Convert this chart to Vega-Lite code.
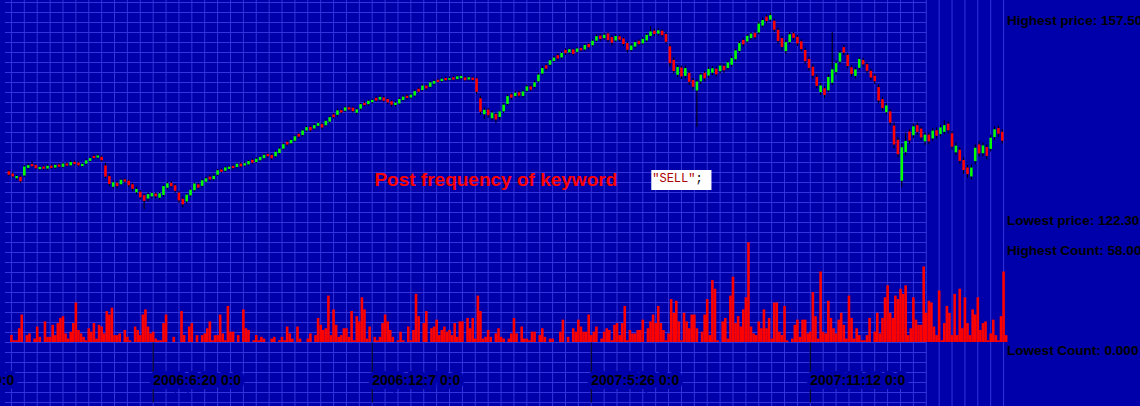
{
"$schema":"https://vega.github.io/schema/vega-lite/v6.json",
"width":1140,"height":406,"autosize":{"type":"none"},"padding":0,"background":"#0000AA",
"config":{"view":{"stroke":null}},
"resolve":{"scale":{"y":"independent"}},
"datasets":{
"gridDays":[{"d":"2006/03/02"},{"d":"2006/03/12"},{"d":"2006/03/22"},{"d":"2006/04/01"},{"d":"2006/04/11"},{"d":"2006/04/21"},{"d":"2006/05/01"},{"d":"2006/05/11"},{"d":"2006/05/21"},{"d":"2006/05/31"},{"d":"2006/06/10"},{"d":"2006/06/20"},{"d":"2006/06/30"},{"d":"2006/07/10"},{"d":"2006/07/20"},{"d":"2006/07/30"},{"d":"2006/08/09"},{"d":"2006/08/19"},{"d":"2006/08/29"},{"d":"2006/09/08"},{"d":"2006/09/18"},{"d":"2006/09/28"},{"d":"2006/10/08"},{"d":"2006/10/18"},{"d":"2006/10/28"},{"d":"2006/11/07"},{"d":"2006/11/17"},{"d":"2006/11/27"},{"d":"2006/12/07"},{"d":"2006/12/17"},{"d":"2006/12/27"},{"d":"2007/01/06"},{"d":"2007/01/16"},{"d":"2007/01/26"},{"d":"2007/02/05"},{"d":"2007/02/15"},{"d":"2007/02/25"},{"d":"2007/03/07"},{"d":"2007/03/17"},{"d":"2007/03/27"},{"d":"2007/04/06"},{"d":"2007/04/16"},{"d":"2007/04/26"},{"d":"2007/05/06"},{"d":"2007/05/16"},{"d":"2007/05/26"},{"d":"2007/06/05"},{"d":"2007/06/15"},{"d":"2007/06/25"},{"d":"2007/07/05"},{"d":"2007/07/15"},{"d":"2007/07/25"},{"d":"2007/08/04"},{"d":"2007/08/14"},{"d":"2007/08/24"},{"d":"2007/09/03"},{"d":"2007/09/13"},{"d":"2007/09/23"},{"d":"2007/10/03"},{"d":"2007/10/13"},{"d":"2007/10/23"},{"d":"2007/11/02"},{"d":"2007/11/12"},{"d":"2007/11/22"},{"d":"2007/12/02"},{"d":"2007/12/12"},{"d":"2007/12/22"},{"d":"2008/01/01"},{"d":"2008/01/11"},{"d":"2008/01/21"},{"d":"2008/01/31"},{"d":"2008/02/10"},{"d":"2008/02/20"},{"d":"2008/03/01"},{"d":"2008/03/11"},{"d":"2008/03/21"},{"d":"2008/03/31"},{"d":"2008/04/10"}],
"gridRows":[{"r":0},{"r":1},{"r":2},{"r":3},{"r":4},{"r":5},{"r":6},{"r":7},{"r":8},{"r":9},{"r":10},{"r":11},{"r":12},{"r":13},{"r":14},{"r":15},{"r":16},{"r":17},{"r":18},{"r":19},{"r":20},{"r":21},{"r":22},{"r":23},{"r":24},{"r":25},{"r":26},{"r":27},{"r":28},{"r":29},{"r":30},{"r":31},{"r":32},{"r":33},{"r":34},{"r":35},{"r":36},{"r":37},{"r":38},{"r":39},{"r":40}],
"ticks":[{"d":"2006/01/01"},{"d":"2006/06/20"},{"d":"2006/12/07"},{"d":"2007/05/26"},{"d":"2007/11/12"}],
"prices":[
{"d":"2006/02/28","o":129.04,"h":129.3,"l":128.2,"c":128.44},
{"d":"2006/03/03","o":128.64,"h":128.9,"l":127.9,"c":128.14},
{"d":"2006/03/06","o":127.83,"h":128.4,"l":127.5,"c":128.23},
{"d":"2006/03/09","o":128.07,"h":128.3,"l":127.0,"c":127.27},
{"d":"2006/03/12","o":128.3,"h":130.2,"l":128.0,"c":129.9},
{"d":"2006/03/15","o":129.66,"h":130.5,"l":129.4,"c":130.16},
{"d":"2006/03/18","o":130.34,"h":130.9,"l":129.8,"c":129.94},
{"d":"2006/03/21","o":130.2,"h":130.4,"l":129.4,"c":129.6},
{"d":"2006/03/24","o":129.44,"h":130.0,"l":129.2,"c":129.84},
{"d":"2006/03/27","o":129.91,"h":130.1,"l":129.3,"c":129.51},
{"d":"2006/03/30","o":129.54,"h":130.3,"l":129.3,"c":130.04},
{"d":"2006/04/02","o":130.06,"h":130.3,"l":129.5,"c":129.66},
{"d":"2006/04/05","o":129.71,"h":130.4,"l":129.5,"c":130.21},
{"d":"2006/04/08","o":130.27,"h":130.5,"l":129.7,"c":129.87},
{"d":"2006/04/11","o":129.84,"h":130.7,"l":129.6,"c":130.44},
{"d":"2006/04/14","o":130.47,"h":130.7,"l":129.9,"c":130.07},
{"d":"2006/04/17","o":130.11,"h":131.0,"l":129.9,"c":130.71},
{"d":"2006/04/20","o":130.74,"h":131.0,"l":130.1,"c":130.34},
{"d":"2006/04/23","o":130.61,"h":130.8,"l":129.9,"c":130.11},
{"d":"2006/04/26","o":129.98,"h":130.6,"l":129.8,"c":130.38},
{"d":"2006/04/29","o":130.42,"h":131.3,"l":130.2,"c":131.02},
{"d":"2006/05/02","o":130.92,"h":131.7,"l":130.7,"c":131.42},
{"d":"2006/05/05","o":131.81,"h":132.1,"l":131.2,"c":131.41},
{"d":"2006/05/08","o":131.5,"h":132.2,"l":131.3,"c":131.9},
{"d":"2006/05/11","o":131.64,"h":131.9,"l":130.8,"c":131.04},
{"d":"2006/05/14","o":130.1,"h":130.6,"l":127.8,"c":128.1},
{"d":"2006/05/17","o":128.19,"h":128.5,"l":126.4,"c":126.79},
{"d":"2006/05/20","o":126.29,"h":127.4,"l":126.0,"c":127.09},
{"d":"2006/05/23","o":126.99,"h":127.3,"l":126.0,"c":126.39},
{"d":"2006/05/26","o":126.73,"h":127.8,"l":126.5,"c":127.53},
{"d":"2006/05/29","o":127.6,"h":127.9,"l":126.9,"c":127.2},
{"d":"2006/06/01","o":127.35,"h":127.6,"l":126.2,"c":126.55},
{"d":"2006/06/04","o":126.73,"h":127.0,"l":125.5,"c":125.93},
{"d":"2006/06/07","o":125.29,"h":126.3,"l":124.9,"c":125.89},
{"d":"2006/06/10","o":125.39,"h":125.7,"l":124.0,"c":124.39},
{"d":"2006/06/13","o":124.77,"h":125.0,"l":122.3,"c":123.77},
{"d":"2006/06/16","o":124.17,"h":125.3,"l":123.6,"c":124.97},
{"d":"2006/06/19","o":124.56,"h":125.4,"l":124.2,"c":125.16},
{"d":"2006/06/22","o":125.06,"h":125.3,"l":124.2,"c":124.56},
{"d":"2006/06/25","o":124.32,"h":125.4,"l":124.0,"c":125.12},
{"d":"2006/06/28","o":124.81,"h":126.6,"l":124.5,"c":126.41},
{"d":"2006/07/01","o":126.11,"h":127.2,"l":125.8,"c":126.91},
{"d":"2006/07/04","o":126.99,"h":127.3,"l":126.1,"c":126.39},
{"d":"2006/07/07","o":126.56,"h":126.8,"l":125.2,"c":125.56},
{"d":"2006/07/10","o":125.24,"h":125.5,"l":123.4,"c":123.84},
{"d":"2006/07/13","o":124.14,"h":124.5,"l":122.6,"c":123.14},
{"d":"2006/07/16","o":123.67,"h":125.1,"l":123.3,"c":124.87},
{"d":"2006/07/19","o":124.75,"h":126.0,"l":124.5,"c":125.75},
{"d":"2006/07/22","o":125.67,"h":127.1,"l":125.4,"c":126.87},
{"d":"2006/07/25","o":126.72,"h":127.0,"l":125.9,"c":126.12},
{"d":"2006/07/28","o":126.45,"h":127.7,"l":126.2,"c":127.45},
{"d":"2006/07/31","o":127.19,"h":128.1,"l":127.0,"c":127.79},
{"d":"2006/08/03","o":128.1,"h":128.4,"l":127.3,"c":127.6},
{"d":"2006/08/06","o":127.64,"h":128.6,"l":127.4,"c":128.24},
{"d":"2006/08/09","o":128.44,"h":129.5,"l":128.2,"c":129.24},
{"d":"2006/08/12","o":129.38,"h":129.6,"l":128.8,"c":128.98},
{"d":"2006/08/15","o":129.16,"h":130.0,"l":128.9,"c":129.76},
{"d":"2006/08/18","o":129.48,"h":130.1,"l":129.3,"c":129.88},
{"d":"2006/08/21","o":130.02,"h":130.2,"l":129.4,"c":129.62},
{"d":"2006/08/24","o":129.81,"h":130.6,"l":129.6,"c":130.41},
{"d":"2006/08/27","o":130.43,"h":130.7,"l":129.7,"c":129.93},
{"d":"2006/08/30","o":130.1,"h":130.8,"l":129.9,"c":130.5},
{"d":"2006/09/02","o":130.29,"h":131.1,"l":130.1,"c":130.89},
{"d":"2006/09/05","o":131.11,"h":131.4,"l":130.4,"c":130.61},
{"d":"2006/09/08","o":130.72,"h":131.6,"l":130.5,"c":131.32},
{"d":"2006/09/11","o":131.04,"h":131.9,"l":130.8,"c":131.64},
{"d":"2006/09/14","o":131.4,"h":132.3,"l":131.2,"c":132.0},
{"d":"2006/09/17","o":132.15,"h":132.4,"l":131.5,"c":131.75},
{"d":"2006/09/20","o":131.98,"h":132.2,"l":131.1,"c":131.38},
{"d":"2006/09/23","o":131.75,"h":132.8,"l":131.5,"c":132.55},
{"d":"2006/09/26","o":132.32,"h":133.4,"l":132.1,"c":133.12},
{"d":"2006/09/29","o":133.11,"h":134.2,"l":132.9,"c":133.91},
{"d":"2006/10/02","o":134.34,"h":134.6,"l":133.6,"c":133.84},
{"d":"2006/10/05","o":134.07,"h":134.9,"l":133.8,"c":134.67},
{"d":"2006/10/08","o":134.53,"h":135.6,"l":134.3,"c":135.33},
{"d":"2006/10/11","o":135.77,"h":136.0,"l":135.0,"c":135.27},
{"d":"2006/10/14","o":135.57,"h":136.6,"l":135.3,"c":136.37},
{"d":"2006/10/17","o":136.37,"h":137.2,"l":136.1,"c":136.97},
{"d":"2006/10/20","o":137.0,"h":137.3,"l":136.1,"c":136.4},
{"d":"2006/10/23","o":136.72,"h":137.6,"l":136.5,"c":137.32},
{"d":"2006/10/26","o":137.2,"h":137.9,"l":137.0,"c":137.7},
{"d":"2006/10/29","o":137.5,"h":137.8,"l":136.6,"c":136.9},
{"d":"2006/11/01","o":137.3,"h":138.4,"l":137.1,"c":138.1},
{"d":"2006/11/04","o":137.95,"h":139.0,"l":137.7,"c":138.75},
{"d":"2006/11/07","o":139.24,"h":139.5,"l":138.5,"c":138.74},
{"d":"2006/11/10","o":139.17,"h":140.3,"l":138.9,"c":139.97},
{"d":"2006/11/13","o":140.0,"h":140.3,"l":139.4,"c":139.6},
{"d":"2006/11/16","o":139.91,"h":140.8,"l":139.7,"c":140.51},
{"d":"2006/11/19","o":140.52,"h":140.8,"l":139.9,"c":140.12},
{"d":"2006/11/22","o":140.44,"h":140.7,"l":139.6,"c":139.84},
{"d":"2006/11/25","o":139.55,"h":140.4,"l":139.2,"c":140.15},
{"d":"2006/11/28","o":140.28,"h":141.3,"l":140.0,"c":141.08},
{"d":"2006/12/01","o":141.31,"h":141.6,"l":140.7,"c":140.91},
{"d":"2006/12/04","o":141.08,"h":141.9,"l":140.8,"c":141.68},
{"d":"2006/12/07","o":141.45,"h":142.1,"l":141.2,"c":141.85},
{"d":"2006/12/10","o":142.22,"h":142.5,"l":141.5,"c":141.72},
{"d":"2006/12/13","o":141.88,"h":142.7,"l":141.6,"c":142.38},
{"d":"2006/12/16","o":142.3,"h":142.6,"l":141.4,"c":141.7},
{"d":"2006/12/19","o":142.0,"h":142.2,"l":141.1,"c":141.4},
{"d":"2006/12/22","o":141.59,"h":141.8,"l":140.6,"c":140.99},
{"d":"2006/12/25","o":140.94,"h":141.6,"l":140.6,"c":141.34},
{"d":"2006/12/28","o":141.21,"h":142.3,"l":141.0,"c":142.01},
{"d":"2006/12/31","o":141.83,"h":142.7,"l":141.6,"c":142.43},
{"d":"2007/01/03","o":142.58,"h":142.9,"l":141.9,"c":142.18},
{"d":"2007/01/06","o":142.27,"h":143.0,"l":142.0,"c":142.77},
{"d":"2007/01/09","o":142.62,"h":143.7,"l":142.4,"c":143.42},
{"d":"2007/01/12","o":143.83,"h":144.1,"l":143.1,"c":143.33},
{"d":"2007/01/15","o":143.61,"h":144.7,"l":143.4,"c":144.41},
{"d":"2007/01/18","o":144.4,"h":144.6,"l":143.6,"c":143.9},
{"d":"2007/01/21","o":144.18,"h":145.2,"l":144.0,"c":144.98},
{"d":"2007/01/24","o":144.74,"h":145.5,"l":144.5,"c":145.24},
{"d":"2007/01/27","o":145.46,"h":145.7,"l":144.9,"c":145.06},
{"d":"2007/01/30","o":145.23,"h":145.9,"l":145.0,"c":145.63},
{"d":"2007/02/02","o":145.77,"h":146.0,"l":145.2,"c":145.37},
{"d":"2007/02/05","o":145.44,"h":146.0,"l":145.3,"c":145.74},
{"d":"2007/02/08","o":145.88,"h":146.1,"l":145.3,"c":145.48},
{"d":"2007/02/11","o":145.57,"h":146.3,"l":145.4,"c":146.07},
{"d":"2007/02/14","o":145.73,"h":146.4,"l":145.5,"c":146.13},
{"d":"2007/02/17","o":145.87,"h":146.1,"l":145.2,"c":145.37},
{"d":"2007/02/20","o":145.5,"h":146.1,"l":145.3,"c":145.9},
{"d":"2007/02/23","o":145.82,"h":146.0,"l":145.2,"c":145.42},
{"d":"2007/02/26","o":145.71,"h":145.9,"l":142.9,"c":143.31},
{"d":"2007/03/01","o":142.13,"h":142.6,"l":139.2,"c":139.73},
{"d":"2007/03/04","o":139.27,"h":140.5,"l":138.4,"c":140.07},
{"d":"2007/03/07","o":140.1,"h":140.4,"l":138.6,"c":139.1},
{"d":"2007/03/10","o":138.55,"h":139.9,"l":138.2,"c":139.55},
{"d":"2007/03/13","o":139.33,"h":139.6,"l":137.7,"c":138.33},
{"d":"2007/03/16","o":138.78,"h":140.0,"l":138.3,"c":139.78},
{"d":"2007/03/19","o":139.79,"h":141.3,"l":139.5,"c":140.99},
{"d":"2007/03/22","o":141.12,"h":142.8,"l":140.9,"c":142.52},
{"d":"2007/03/25","o":142.84,"h":143.1,"l":141.9,"c":142.24},
{"d":"2007/03/28","o":142.53,"h":143.4,"l":142.3,"c":143.13},
{"d":"2007/03/31","o":143.2,"h":143.5,"l":142.3,"c":142.6},
{"d":"2007/04/03","o":142.55,"h":143.6,"l":142.3,"c":143.35},
{"d":"2007/04/06","o":143.47,"h":144.6,"l":143.2,"c":144.27},
{"d":"2007/04/09","o":144.27,"h":144.5,"l":143.4,"c":143.67},
{"d":"2007/04/12","o":144.18,"h":145.3,"l":143.9,"c":144.98},
{"d":"2007/04/15","o":145.17,"h":146.7,"l":144.9,"c":146.37},
{"d":"2007/04/18","o":146.56,"h":147.9,"l":146.3,"c":147.56},
{"d":"2007/04/21","o":148.04,"h":148.3,"l":147.1,"c":147.44},
{"d":"2007/04/24","o":148.14,"h":149.2,"l":147.9,"c":148.94},
{"d":"2007/04/27","o":148.82,"h":149.7,"l":148.6,"c":149.42},
{"d":"2007/04/30","o":149.85,"h":150.2,"l":148.9,"c":149.25},
{"d":"2007/05/03","o":149.45,"h":150.5,"l":149.2,"c":150.25},
{"d":"2007/05/06","o":150.81,"h":151.1,"l":149.9,"c":150.21},
{"d":"2007/05/09","o":150.34,"h":151.2,"l":150.1,"c":150.94},
{"d":"2007/05/12","o":150.88,"h":151.1,"l":149.8,"c":150.08},
{"d":"2007/05/15","o":150.46,"h":151.3,"l":150.2,"c":151.06},
{"d":"2007/05/18","o":151.13,"h":151.4,"l":150.5,"c":150.73},
{"d":"2007/05/21","o":150.88,"h":151.9,"l":150.6,"c":151.68},
{"d":"2007/05/24","o":151.87,"h":152.1,"l":151.0,"c":151.27},
{"d":"2007/05/27","o":151.64,"h":152.7,"l":151.4,"c":152.44},
{"d":"2007/05/30","o":152.46,"h":153.6,"l":152.2,"c":153.26},
{"d":"2007/06/02","o":153.36,"h":153.7,"l":152.4,"c":152.76},
{"d":"2007/06/05","o":152.9,"h":153.9,"l":152.6,"c":153.5},
{"d":"2007/06/08","o":153.75,"h":154.0,"l":152.1,"c":152.55},
{"d":"2007/06/11","o":153.09,"h":153.4,"l":151.6,"c":152.09},
{"d":"2007/06/14","o":152.48,"h":153.6,"l":152.2,"c":153.28},
{"d":"2007/06/17","o":153.23,"h":153.5,"l":152.3,"c":152.63},
{"d":"2007/06/20","o":152.86,"h":153.1,"l":151.5,"c":151.86},
{"d":"2007/06/23","o":152.03,"h":152.3,"l":150.3,"c":150.83},
{"d":"2007/06/26","o":150.78,"h":151.9,"l":150.5,"c":151.58},
{"d":"2007/06/29","o":151.4,"h":152.5,"l":151.1,"c":152.2},
{"d":"2007/07/02","o":152.43,"h":152.7,"l":151.6,"c":151.83},
{"d":"2007/07/05","o":151.98,"h":153.1,"l":151.7,"c":152.78},
{"d":"2007/07/08","o":152.5,"h":153.8,"l":152.2,"c":153.5},
{"d":"2007/07/11","o":153.3,"h":155.0,"l":153.0,"c":154.1},
{"d":"2007/07/14","o":154.25,"h":154.6,"l":153.3,"c":153.65},
{"d":"2007/07/17","o":153.71,"h":154.7,"l":153.4,"c":154.31},
{"d":"2007/07/20","o":154.23,"h":154.5,"l":153.1,"c":153.43},
{"d":"2007/07/23","o":153.65,"h":154.0,"l":151.9,"c":152.25},
{"d":"2007/07/26","o":151.44,"h":151.8,"l":147.8,"c":148.44},
{"d":"2007/07/29","o":149.02,"h":149.5,"l":146.6,"c":147.02},
{"d":"2007/08/01","o":146.34,"h":148.1,"l":145.9,"c":147.74},
{"d":"2007/08/04","o":147.64,"h":148.0,"l":145.6,"c":146.04},
{"d":"2007/08/07","o":146.14,"h":148.0,"l":145.7,"c":147.54},
{"d":"2007/08/10","o":146.69,"h":147.0,"l":144.5,"c":145.09},
{"d":"2007/08/13","o":145.4,"h":145.8,"l":143.7,"c":144.2},
{"d":"2007/08/16","o":143.53,"h":145.5,"l":137.0,"c":145.13},
{"d":"2007/08/19","o":145.17,"h":146.7,"l":144.7,"c":146.37},
{"d":"2007/08/22","o":146.7,"h":147.0,"l":145.2,"c":145.7},
{"d":"2007/08/25","o":146.2,"h":147.8,"l":145.8,"c":147.4},
{"d":"2007/08/28","o":146.71,"h":147.9,"l":146.3,"c":147.51},
{"d":"2007/08/31","o":147.43,"h":147.8,"l":146.0,"c":146.43},
{"d":"2007/09/03","o":146.99,"h":148.4,"l":146.6,"c":147.99},
{"d":"2007/09/06","o":147.96,"h":148.3,"l":146.7,"c":147.16},
{"d":"2007/09/09","o":147.56,"h":148.9,"l":147.2,"c":148.56},
{"d":"2007/09/12","o":148.14,"h":149.7,"l":147.8,"c":149.34},
{"d":"2007/09/15","o":149.12,"h":151.0,"l":148.7,"c":150.72},
{"d":"2007/09/18","o":150.62,"h":152.4,"l":150.3,"c":152.02},
{"d":"2007/09/21","o":152.6,"h":152.9,"l":151.4,"c":151.8},
{"d":"2007/09/24","o":152.32,"h":153.6,"l":152.0,"c":153.32},
{"d":"2007/09/27","o":152.91,"h":154.0,"l":152.6,"c":153.71},
{"d":"2007/09/30","o":153.85,"h":154.2,"l":152.7,"c":153.05},
{"d":"2007/10/03","o":153.92,"h":155.9,"l":153.6,"c":155.52},
{"d":"2007/10/06","o":155.15,"h":156.6,"l":154.8,"c":156.15},
{"d":"2007/10/09","o":156.77,"h":157.1,"l":155.6,"c":155.97},
{"d":"2007/10/12","o":156.22,"h":157.5,"l":155.9,"c":157.02},
{"d":"2007/10/15","o":156.02,"h":156.4,"l":154.0,"c":154.42},
{"d":"2007/10/18","o":154.4,"h":154.8,"l":151.9,"c":152.4},
{"d":"2007/10/21","o":152.93,"h":153.3,"l":150.7,"c":151.33},
{"d":"2007/10/24","o":150.59,"h":152.6,"l":150.1,"c":152.19},
{"d":"2007/10/27","o":152.2,"h":154.0,"l":151.8,"c":153.6},
{"d":"2007/10/30","o":153.76,"h":154.1,"l":152.6,"c":152.96},
{"d":"2007/11/02","o":153.14,"h":153.5,"l":151.5,"c":151.94},
{"d":"2007/11/05","o":152.34,"h":152.7,"l":150.5,"c":150.94},
{"d":"2007/11/08","o":150.78,"h":151.2,"l":148.3,"c":148.78},
{"d":"2007/11/11","o":149.18,"h":149.6,"l":147.1,"c":147.58},
{"d":"2007/11/14","o":147.78,"h":148.2,"l":145.7,"c":146.18},
{"d":"2007/11/17","o":145.96,"h":146.4,"l":143.9,"c":144.36},
{"d":"2007/11/20","o":143.23,"h":144.9,"l":142.7,"c":144.43},
{"d":"2007/11/23","o":143.93,"h":144.3,"l":142.2,"c":142.73},
{"d":"2007/11/26","o":143.56,"h":146.4,"l":143.2,"c":145.96},
{"d":"2007/11/29","o":144.92,"h":154.0,"l":144.5,"c":147.32},
{"d":"2007/12/02","o":146.83,"h":148.9,"l":146.4,"c":148.43},
{"d":"2007/12/05","o":148.69,"h":150.7,"l":148.2,"c":150.29},
{"d":"2007/12/08","o":151.3,"h":151.7,"l":149.9,"c":150.3},
{"d":"2007/12/11","o":149.92,"h":150.3,"l":147.5,"c":147.92},
{"d":"2007/12/14","o":147.69,"h":148.1,"l":146.0,"c":146.49},
{"d":"2007/12/17","o":146.13,"h":147.7,"l":145.7,"c":147.33},
{"d":"2007/12/20","o":147.58,"h":149.5,"l":147.2,"c":149.18},
{"d":"2007/12/23","o":149.0,"h":149.4,"l":147.8,"c":148.2},
{"d":"2007/12/26","o":148.25,"h":148.6,"l":146.6,"c":147.05},
{"d":"2007/12/29","o":147.05,"h":147.4,"l":145.4,"c":145.85},
{"d":"2008/01/01","o":146.18,"h":146.5,"l":144.7,"c":145.18},
{"d":"2008/01/04","o":144.13,"h":144.6,"l":141.2,"c":141.73},
{"d":"2008/01/07","o":141.98,"h":142.4,"l":139.9,"c":140.38},
{"d":"2008/01/10","o":139.65,"h":141.3,"l":139.2,"c":140.85},
{"d":"2008/01/13","o":139.78,"h":140.2,"l":137.3,"c":137.78},
{"d":"2008/01/16","o":137.25,"h":137.8,"l":133.2,"c":133.85},
{"d":"2008/01/19","o":134.7,"h":135.2,"l":131.5,"c":132.1},
{"d":"2008/01/22","o":127.36,"h":134.0,"l":126.2,"c":133.36},
{"d":"2008/01/25","o":132.49,"h":136.0,"l":131.9,"c":134.49},
{"d":"2008/01/28","o":136.17,"h":136.6,"l":134.0,"c":134.57},
{"d":"2008/01/31","o":135.51,"h":137.6,"l":135.0,"c":137.11},
{"d":"2008/02/03","o":137.32,"h":137.8,"l":135.6,"c":136.12},
{"d":"2008/02/06","o":136.71,"h":137.1,"l":134.6,"c":135.11},
{"d":"2008/02/09","o":134.42,"h":136.1,"l":133.8,"c":135.62},
{"d":"2008/02/12","o":135.62,"h":136.0,"l":133.9,"c":134.42},
{"d":"2008/02/15","o":134.94,"h":136.8,"l":134.5,"c":136.34},
{"d":"2008/02/18","o":136.41,"h":136.9,"l":134.9,"c":135.41},
{"d":"2008/02/21","o":135.71,"h":137.4,"l":135.3,"c":136.91},
{"d":"2008/02/24","o":136.12,"h":138.2,"l":135.7,"c":137.32},
{"d":"2008/02/27","o":137.59,"h":138.0,"l":135.8,"c":136.39},
{"d":"2008/03/01","o":135.86,"h":136.3,"l":132.9,"c":133.46},
{"d":"2008/03/04","o":132.45,"h":134.2,"l":131.9,"c":133.65},
{"d":"2008/03/07","o":132.92,"h":133.4,"l":130.4,"c":130.92},
{"d":"2008/03/10","o":131.08,"h":131.6,"l":128.6,"c":129.28},
{"d":"2008/03/13","o":129.74,"h":130.2,"l":127.9,"c":128.54},
{"d":"2008/03/16","o":128.13,"h":130.3,"l":127.6,"c":129.73},
{"d":"2008/03/19","o":130.88,"h":133.9,"l":130.3,"c":133.28},
{"d":"2008/03/22","o":133.86,"h":134.5,"l":131.7,"c":132.26},
{"d":"2008/03/25","o":132.29,"h":134.2,"l":131.7,"c":133.69},
{"d":"2008/03/28","o":133.42,"h":133.9,"l":131.2,"c":131.82},
{"d":"2008/03/31","o":133.07,"h":135.6,"l":132.6,"c":135.07},
{"d":"2008/04/03","o":135.18,"h":137.1,"l":134.7,"c":136.58},
{"d":"2008/04/06","o":136.79,"h":137.3,"l":135.2,"c":135.79},
{"d":"2008/04/09","o":136.14,"h":136.6,"l":134.0,"c":134.54}
],
"posts":[
{"d":"2006/02/28","n":0},{"d":"2006/03/02","n":4},{"d":"2006/03/04","n":1},{"d":"2006/03/06","n":1},{"d":"2006/03/08","n":8},{"d":"2006/03/10","n":16},{"d":"2006/03/12","n":0},{"d":"2006/03/14","n":4},{"d":"2006/03/16","n":5},{"d":"2006/03/18","n":0},{"d":"2006/03/20","n":2},{"d":"2006/03/22","n":9},{"d":"2006/03/24","n":3},{"d":"2006/03/26","n":0},{"d":"2006/03/28","n":12},{"d":"2006/03/30","n":3},
{"d":"2006/04/01","n":3},{"d":"2006/04/03","n":10},{"d":"2006/04/05","n":4},{"d":"2006/04/07","n":11},{"d":"2006/04/09","n":14},{"d":"2006/04/11","n":15},{"d":"2006/04/13","n":5},{"d":"2006/04/15","n":2},{"d":"2006/04/17","n":6},{"d":"2006/04/19","n":11},{"d":"2006/04/21","n":23},{"d":"2006/04/23","n":7},{"d":"2006/04/25","n":5},{"d":"2006/04/27","n":3},{"d":"2006/04/29","n":1},
{"d":"2006/05/01","n":8},{"d":"2006/05/03","n":6},{"d":"2006/05/05","n":11},{"d":"2006/05/07","n":2},{"d":"2006/05/09","n":10},{"d":"2006/05/11","n":9},{"d":"2006/05/13","n":5},{"d":"2006/05/15","n":18},{"d":"2006/05/17","n":16},{"d":"2006/05/19","n":20},{"d":"2006/05/21","n":4},{"d":"2006/05/23","n":4},{"d":"2006/05/25","n":5},{"d":"2006/05/27","n":0},{"d":"2006/05/29","n":7},{"d":"2006/05/31","n":3},
{"d":"2006/06/02","n":1},{"d":"2006/06/04","n":0},{"d":"2006/06/06","n":9},{"d":"2006/06/08","n":7},{"d":"2006/06/10","n":4},{"d":"2006/06/12","n":16},{"d":"2006/06/14","n":19},{"d":"2006/06/16","n":9},{"d":"2006/06/18","n":5},{"d":"2006/06/20","n":6},{"d":"2006/06/22","n":2},{"d":"2006/06/24","n":1},{"d":"2006/06/26","n":1},{"d":"2006/06/28","n":11},{"d":"2006/06/30","n":16},
{"d":"2006/07/02","n":0},{"d":"2006/07/04","n":0},{"d":"2006/07/06","n":3},{"d":"2006/07/08","n":0},{"d":"2006/07/10","n":0},{"d":"2006/07/12","n":18},{"d":"2006/07/14","n":4},{"d":"2006/07/16","n":0},{"d":"2006/07/18","n":9},{"d":"2006/07/20","n":11},{"d":"2006/07/22","n":0},{"d":"2006/07/24","n":4},{"d":"2006/07/26","n":0},{"d":"2006/07/28","n":4},{"d":"2006/07/30","n":5},
{"d":"2006/08/01","n":8},{"d":"2006/08/03","n":12},{"d":"2006/08/05","n":1},{"d":"2006/08/07","n":4},{"d":"2006/08/09","n":4},{"d":"2006/08/11","n":16},{"d":"2006/08/13","n":5},{"d":"2006/08/15","n":1},{"d":"2006/08/17","n":21},{"d":"2006/08/19","n":6},{"d":"2006/08/21","n":6},{"d":"2006/08/23","n":0},{"d":"2006/08/25","n":4},{"d":"2006/08/27","n":0},{"d":"2006/08/29","n":19},{"d":"2006/08/31","n":8},
{"d":"2006/09/02","n":7},{"d":"2006/09/04","n":0},{"d":"2006/09/06","n":1},{"d":"2006/09/08","n":4},{"d":"2006/09/10","n":1},{"d":"2006/09/12","n":3},{"d":"2006/09/14","n":2},{"d":"2006/09/16","n":0},{"d":"2006/09/18","n":0},{"d":"2006/09/20","n":2},{"d":"2006/09/22","n":3},{"d":"2006/09/24","n":0},{"d":"2006/09/26","n":1},{"d":"2006/09/28","n":3},{"d":"2006/09/30","n":1},
{"d":"2006/10/02","n":9},{"d":"2006/10/04","n":5},{"d":"2006/10/06","n":2},{"d":"2006/10/08","n":0},{"d":"2006/10/10","n":9},{"d":"2006/10/12","n":2},{"d":"2006/10/14","n":0},{"d":"2006/10/16","n":0},{"d":"2006/10/18","n":2},{"d":"2006/10/20","n":5},{"d":"2006/10/22","n":0},{"d":"2006/10/24","n":4},{"d":"2006/10/26","n":14},{"d":"2006/10/28","n":10},{"d":"2006/10/30","n":7},
{"d":"2006/11/01","n":8},{"d":"2006/11/03","n":27},{"d":"2006/11/05","n":4},{"d":"2006/11/07","n":19},{"d":"2006/11/09","n":10},{"d":"2006/11/11","n":3},{"d":"2006/11/13","n":4},{"d":"2006/11/15","n":8},{"d":"2006/11/17","n":8},{"d":"2006/11/19","n":3},{"d":"2006/11/21","n":18},{"d":"2006/11/23","n":1},{"d":"2006/11/25","n":15},{"d":"2006/11/27","n":12},{"d":"2006/11/29","n":26},
{"d":"2006/12/01","n":19},{"d":"2006/12/03","n":2},{"d":"2006/12/05","n":9},{"d":"2006/12/07","n":0},{"d":"2006/12/09","n":3},{"d":"2006/12/11","n":1},{"d":"2006/12/13","n":3},{"d":"2006/12/15","n":11},{"d":"2006/12/17","n":16},{"d":"2006/12/19","n":12},{"d":"2006/12/21","n":7},{"d":"2006/12/23","n":3},{"d":"2006/12/25","n":0},{"d":"2006/12/27","n":1},{"d":"2006/12/29","n":6},{"d":"2006/12/31","n":1},
{"d":"2007/01/02","n":0},{"d":"2007/01/04","n":9},{"d":"2007/01/06","n":1},{"d":"2007/01/08","n":7},{"d":"2007/01/10","n":28},{"d":"2007/01/12","n":15},{"d":"2007/01/14","n":0},{"d":"2007/01/16","n":11},{"d":"2007/01/18","n":18},{"d":"2007/01/20","n":0},{"d":"2007/01/22","n":8},{"d":"2007/01/24","n":9},{"d":"2007/01/26","n":13},{"d":"2007/01/28","n":4},{"d":"2007/01/30","n":7},
{"d":"2007/02/01","n":9},{"d":"2007/02/03","n":6},{"d":"2007/02/05","n":7},{"d":"2007/02/07","n":4},{"d":"2007/02/09","n":11},{"d":"2007/02/11","n":3},{"d":"2007/02/13","n":12},{"d":"2007/02/15","n":12},{"d":"2007/02/17","n":0},{"d":"2007/02/19","n":14},{"d":"2007/02/21","n":8},{"d":"2007/02/23","n":14},{"d":"2007/02/25","n":2},{"d":"2007/02/27","n":27},
{"d":"2007/03/01","n":18},{"d":"2007/03/03","n":2},{"d":"2007/03/05","n":3},{"d":"2007/03/07","n":7},{"d":"2007/03/09","n":3},{"d":"2007/03/11","n":0},{"d":"2007/03/13","n":5},{"d":"2007/03/15","n":8},{"d":"2007/03/17","n":3},{"d":"2007/03/19","n":2},{"d":"2007/03/21","n":0},{"d":"2007/03/23","n":2},{"d":"2007/03/25","n":5},{"d":"2007/03/27","n":14},{"d":"2007/03/29","n":5},{"d":"2007/03/31","n":0},
{"d":"2007/04/02","n":9},{"d":"2007/04/04","n":2},{"d":"2007/04/06","n":2},{"d":"2007/04/08","n":1},{"d":"2007/04/10","n":6},{"d":"2007/04/12","n":6},{"d":"2007/04/14","n":0},{"d":"2007/04/16","n":4},{"d":"2007/04/18","n":8},{"d":"2007/04/20","n":3},{"d":"2007/04/22","n":0},{"d":"2007/04/24","n":2},{"d":"2007/04/26","n":2},{"d":"2007/04/28","n":0},{"d":"2007/04/30","n":0},
{"d":"2007/05/02","n":6},{"d":"2007/05/04","n":13},{"d":"2007/05/06","n":0},{"d":"2007/05/08","n":3},{"d":"2007/05/10","n":0},{"d":"2007/05/12","n":8},{"d":"2007/05/14","n":6},{"d":"2007/05/16","n":13},{"d":"2007/05/18","n":9},{"d":"2007/05/20","n":6},{"d":"2007/05/22","n":6},{"d":"2007/05/24","n":16},{"d":"2007/05/26","n":4},{"d":"2007/05/28","n":6},{"d":"2007/05/30","n":9},
{"d":"2007/06/01","n":0},{"d":"2007/06/03","n":2},{"d":"2007/06/05","n":6},{"d":"2007/06/07","n":8},{"d":"2007/06/09","n":7},{"d":"2007/06/11","n":1},{"d":"2007/06/13","n":10},{"d":"2007/06/15","n":11},{"d":"2007/06/17","n":4},{"d":"2007/06/19","n":11},{"d":"2007/06/21","n":21},{"d":"2007/06/23","n":1},{"d":"2007/06/25","n":7},{"d":"2007/06/27","n":5},{"d":"2007/06/29","n":5},
{"d":"2007/07/01","n":7},{"d":"2007/07/03","n":7},{"d":"2007/07/05","n":13},{"d":"2007/07/07","n":0},{"d":"2007/07/09","n":8},{"d":"2007/07/11","n":12},{"d":"2007/07/13","n":16},{"d":"2007/07/15","n":11},{"d":"2007/07/17","n":21},{"d":"2007/07/19","n":11},{"d":"2007/07/21","n":7},{"d":"2007/07/23","n":1},{"d":"2007/07/25","n":5},{"d":"2007/07/27","n":25},{"d":"2007/07/29","n":17},{"d":"2007/07/31","n":24},
{"d":"2007/08/02","n":12},{"d":"2007/08/04","n":1},{"d":"2007/08/06","n":17},{"d":"2007/08/08","n":12},{"d":"2007/08/10","n":8},{"d":"2007/08/12","n":16},{"d":"2007/08/14","n":16},{"d":"2007/08/16","n":8},{"d":"2007/08/18","n":0},{"d":"2007/08/20","n":6},{"d":"2007/08/22","n":16},{"d":"2007/08/24","n":25},{"d":"2007/08/26","n":4},{"d":"2007/08/28","n":36},{"d":"2007/08/30","n":31},
{"d":"2007/09/01","n":1},{"d":"2007/09/03","n":0},{"d":"2007/09/05","n":12},{"d":"2007/09/07","n":14},{"d":"2007/09/09","n":2},{"d":"2007/09/11","n":27},{"d":"2007/09/13","n":38},{"d":"2007/09/15","n":11},{"d":"2007/09/17","n":15},{"d":"2007/09/19","n":9},{"d":"2007/09/21","n":19},{"d":"2007/09/23","n":26},{"d":"2007/09/25","n":58},{"d":"2007/09/27","n":9},{"d":"2007/09/29","n":5},
{"d":"2007/10/01","n":4},{"d":"2007/10/03","n":12},{"d":"2007/10/05","n":8},{"d":"2007/10/07","n":19},{"d":"2007/10/09","n":8},{"d":"2007/10/11","n":14},{"d":"2007/10/13","n":2},{"d":"2007/10/15","n":23},{"d":"2007/10/17","n":23},{"d":"2007/10/19","n":6},{"d":"2007/10/21","n":4},{"d":"2007/10/23","n":21},{"d":"2007/10/25","n":1},{"d":"2007/10/27","n":0},{"d":"2007/10/29","n":2},{"d":"2007/10/31","n":10},
{"d":"2007/11/02","n":13},{"d":"2007/11/04","n":3},{"d":"2007/11/06","n":13},{"d":"2007/11/08","n":13},{"d":"2007/11/10","n":5},{"d":"2007/11/12","n":6},{"d":"2007/11/14","n":29},{"d":"2007/11/16","n":15},{"d":"2007/11/18","n":2},{"d":"2007/11/20","n":41},{"d":"2007/11/22","n":6},{"d":"2007/11/24","n":5},{"d":"2007/11/26","n":24},{"d":"2007/11/28","n":14},{"d":"2007/11/30","n":8},
{"d":"2007/12/02","n":5},{"d":"2007/12/04","n":13},{"d":"2007/12/06","n":17},{"d":"2007/12/08","n":10},{"d":"2007/12/10","n":2},{"d":"2007/12/12","n":27},{"d":"2007/12/14","n":14},{"d":"2007/12/16","n":2},{"d":"2007/12/18","n":8},{"d":"2007/12/20","n":4},{"d":"2007/12/22","n":1},{"d":"2007/12/24","n":1},{"d":"2007/12/26","n":4},{"d":"2007/12/28","n":14},{"d":"2007/12/30","n":0},
{"d":"2008/01/01","n":6},{"d":"2008/01/03","n":17},{"d":"2008/01/05","n":5},{"d":"2008/01/07","n":14},{"d":"2008/01/09","n":26},{"d":"2008/01/11","n":33},{"d":"2008/01/13","n":17},{"d":"2008/01/15","n":14},{"d":"2008/01/17","n":27},{"d":"2008/01/19","n":25},{"d":"2008/01/21","n":31},{"d":"2008/01/23","n":28},{"d":"2008/01/25","n":33},{"d":"2008/01/27","n":4},{"d":"2008/01/29","n":8},{"d":"2008/01/31","n":26},
{"d":"2008/02/02","n":13},{"d":"2008/02/04","n":10},{"d":"2008/02/06","n":10},{"d":"2008/02/08","n":44},{"d":"2008/02/10","n":17},{"d":"2008/02/12","n":24},{"d":"2008/02/14","n":23},{"d":"2008/02/16","n":9},{"d":"2008/02/18","n":4},{"d":"2008/02/20","n":30},{"d":"2008/02/22","n":1},{"d":"2008/02/24","n":11},{"d":"2008/02/26","n":21},{"d":"2008/02/28","n":17},
{"d":"2008/03/01","n":4},{"d":"2008/03/03","n":28},{"d":"2008/03/05","n":4},{"d":"2008/03/07","n":31},{"d":"2008/03/09","n":8},{"d":"2008/03/11","n":26},{"d":"2008/03/13","n":11},{"d":"2008/03/15","n":4},{"d":"2008/03/17","n":19},{"d":"2008/03/19","n":16},{"d":"2008/03/21","n":26},{"d":"2008/03/23","n":7},{"d":"2008/03/25","n":11},{"d":"2008/03/27","n":12},{"d":"2008/03/29","n":1},{"d":"2008/03/31","n":5},
{"d":"2008/04/02","n":13},{"d":"2008/04/04","n":4},{"d":"2008/04/06","n":1},{"d":"2008/04/08","n":15},{"d":"2008/04/10","n":41},{"d":"2008/04/12","n":4}
]
},
"layer":[
{"data":{"name":"gridDays"},"mark":{"type":"rule","color":"#3434DC","strokeWidth":1},
 "encoding":{"x":{"field":"d","type":"temporal","scale":{"domain":[{"year":2006,"month":2,"date":25},{"year":2008,"month":7,"date":21}],"nice":false},"axis":null}}},
{"data":{"name":"gridRows"},"mark":{"type":"rule","color":"#3434DC","strokeWidth":1},
 "encoding":{"x":{"datum":{"year":2006,"month":2,"date":25},"type":"temporal","scale":{"domain":[{"year":2006,"month":2,"date":25},{"year":2008,"month":7,"date":21}],"nice":false},"axis":null},
  "x2":{"datum":{"year":2008,"month":2,"date":10}},
  "y":{"field":"r","type":"quantitative","scale":{"domain":[0,40],"range":[2.5,402.5],"nice":false,"zero":false},"axis":null}}},
{"data":{"name":"ticks"},"mark":{"type":"rule","color":"#000000","strokeWidth":1},
 "encoding":{"x":{"field":"d","type":"temporal","scale":{"domain":[{"year":2006,"month":2,"date":25},{"year":2008,"month":7,"date":21}],"nice":false},"axis":null},
  "y":{"datum":34,"type":"quantitative","scale":{"domain":[0,40],"range":[2.5,402.5],"nice":false,"zero":false},"axis":null},
  "y2":{"datum":40}}},
{"data":{"name":"ticks"},"mark":{"type":"text","align":"left","baseline":"alphabetic","font":"Liberation Sans","fontWeight":"bold","fontSize":14,"fill":"#0000AA","stroke":"#0000AA","strokeWidth":8,"strokeJoin":"miter"},
 "encoding":{"x":{"field":"d","type":"temporal","scale":{"domain":[{"year":2006,"month":2,"date":25},{"year":2008,"month":7,"date":21}],"nice":false},"axis":null},
  "y":{"datum":38.25,"type":"quantitative","scale":{"domain":[0,40],"range":[2.5,402.5],"nice":false,"zero":false},"axis":null},
  "text":{"field":"d","type":"temporal","format":"%Y:%-m:%-d %-H:%-M"}}},
{"data":{"name":"ticks"},"mark":{"type":"text","align":"left","baseline":"alphabetic","font":"Liberation Sans","fontWeight":"bold","fontSize":14,"fill":"#000000"},
 "encoding":{"x":{"field":"d","type":"temporal","scale":{"domain":[{"year":2006,"month":2,"date":25},{"year":2008,"month":7,"date":21}],"nice":false},"axis":null},
  "y":{"datum":38.25,"type":"quantitative","scale":{"domain":[0,40],"range":[2.5,402.5],"nice":false,"zero":false},"axis":null},
  "text":{"field":"d","type":"temporal","format":"%Y:%-m:%-d %-H:%-M"}}},
{"data":{"name":"posts"},"mark":{"type":"bar","color":"#FF0000","size":2.6},
 "encoding":{"x":{"field":"d","type":"temporal","scale":{"domain":[{"year":2006,"month":2,"date":25},{"year":2008,"month":7,"date":21}],"nice":false},"axis":null},
  "y":{"field":"n","type":"quantitative","scale":{"domain":[0,58],"range":[342,242.3],"nice":false},"axis":null}}},
{"data":{"name":"prices"},"mark":{"type":"rule","color":"#000000","strokeWidth":1},
 "encoding":{"x":{"field":"d","type":"temporal","scale":{"domain":[{"year":2006,"month":2,"date":25},{"year":2008,"month":7,"date":21}],"nice":false},"axis":null},
  "y":{"field":"l","type":"quantitative","scale":{"domain":[122.3,157.5],"range":[209,12.5],"nice":false,"zero":false},"axis":null},
  "y2":{"field":"h"}}},
{"data":{"name":"prices"},"mark":{"type":"bar","size":2.6},
 "encoding":{"x":{"field":"d","type":"temporal","scale":{"domain":[{"year":2006,"month":2,"date":25},{"year":2008,"month":7,"date":21}],"nice":false},"axis":null},
  "y":{"field":"o","type":"quantitative","scale":{"domain":[122.3,157.5],"range":[209,12.5],"nice":false,"zero":false},"axis":null},
  "y2":{"field":"c"},
  "color":{"condition":{"test":"datum.c >= datum.o","value":"#00FF00"},"value":"#FF0000"}}},
{"data":{"values":[{}]},"mark":{"type":"text","text":"Post frequency of keyword","align":"left","baseline":"alphabetic","font":"Liberation Sans","fontWeight":"bold","fontSize":19,"fill":"#FF0000"},
 "encoding":{"x":{"datum":{"year":2006,"month":12,"date":8,"hours":17},"type":"temporal","scale":{"domain":[{"year":2006,"month":2,"date":25},{"year":2008,"month":7,"date":21}],"nice":false},"axis":null},
  "y":{"datum":126.47,"type":"quantitative","scale":{"domain":[122.3,157.5],"range":[209,12.5],"nice":false,"zero":false},"axis":null}}},
{"data":{"values":[{}]},"mark":{"type":"rect","color":"#FFFFFF"},
 "encoding":{"x":{"datum":{"year":2007,"month":7,"date":11,"hours":14},"type":"temporal","scale":{"domain":[{"year":2006,"month":2,"date":25},{"year":2008,"month":7,"date":21}],"nice":false},"axis":null},
  "x2":{"datum":{"year":2007,"month":8,"date":27,"hours":7}},
  "y":{"datum":129.28,"type":"quantitative","scale":{"domain":[122.3,157.5],"range":[209,12.5],"nice":false,"zero":false},"axis":null},
  "y2":{"datum":125.7}}},
{"data":{"values":[{}]},"mark":{"type":"text","text":"\"SELL\"","align":"left","baseline":"alphabetic","font":"Liberation Mono","fontSize":12,"fill":"#AA0000"},
 "encoding":{"x":{"datum":{"year":2007,"month":7,"date":12,"hours":8},"type":"temporal","scale":{"domain":[{"year":2006,"month":2,"date":25},{"year":2008,"month":7,"date":21}],"nice":false},"axis":null},
  "y":{"datum":127.08,"type":"quantitative","scale":{"domain":[122.3,157.5],"range":[209,12.5],"nice":false,"zero":false},"axis":null}}},
{"data":{"values":[{}]},"mark":{"type":"text","text":";","align":"left","baseline":"alphabetic","font":"Liberation Mono","fontSize":12,"fill":"#000000","dx":43.2},
 "encoding":{"x":{"datum":{"year":2007,"month":7,"date":12,"hours":8},"type":"temporal","scale":{"domain":[{"year":2006,"month":2,"date":25},{"year":2008,"month":7,"date":21}],"nice":false},"axis":null},
  "y":{"datum":127.08,"type":"quantitative","scale":{"domain":[122.3,157.5],"range":[209,12.5],"nice":false,"zero":false},"axis":null}}},
{"data":{"values":[{"label":"Highest price: 157.50","r":2.25},{"label":"Lowest price: 122.30","r":22.25},{"label":"Highest Count: 58.00","r":25.25},{"label":"Lowest Count: 0.000","r":35.25}]},
 "mark":{"type":"text","align":"left","baseline":"alphabetic","font":"Liberation Sans","fontWeight":"bold","fontSize":13.5,"fill":"#000000"},
 "encoding":{"x":{"datum":{"year":2008,"month":4,"date":12,"hours":18},"type":"temporal","scale":{"domain":[{"year":2006,"month":2,"date":25},{"year":2008,"month":7,"date":21}],"nice":false},"axis":null},
  "y":{"field":"r","type":"quantitative","scale":{"domain":[0,40],"range":[2.5,402.5],"nice":false,"zero":false},"axis":null},
  "text":{"field":"label"}}}
]
}
